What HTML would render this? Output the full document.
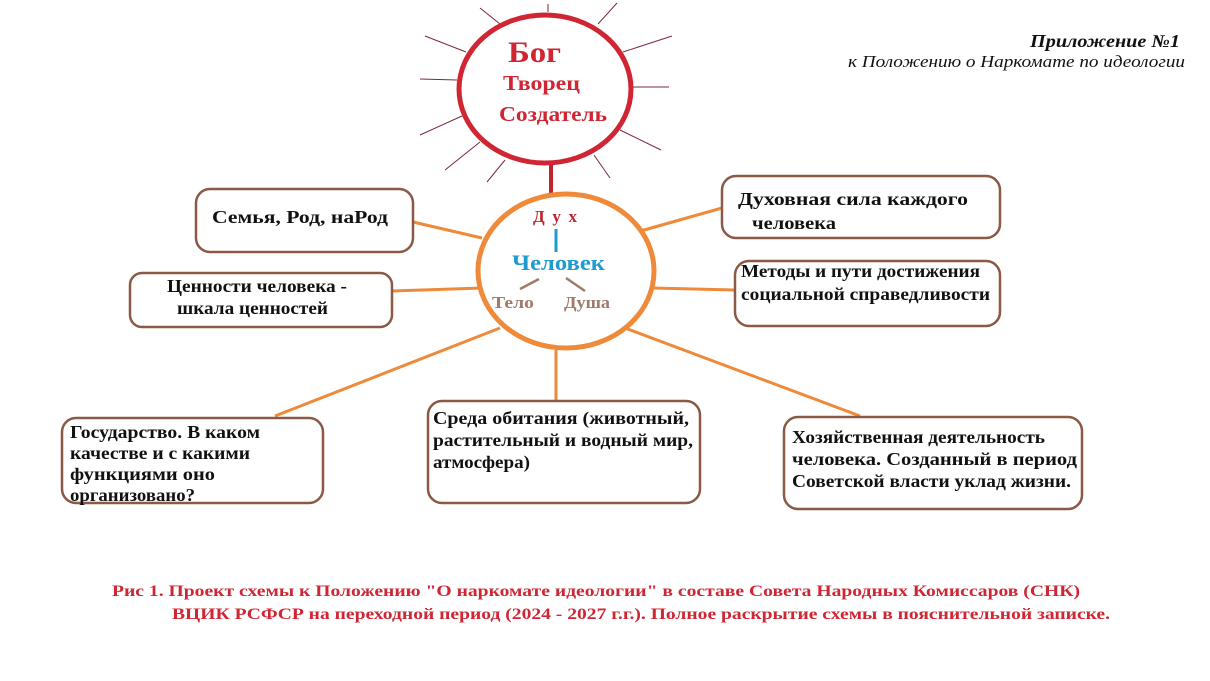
<!DOCTYPE html>
<html><head><meta charset="utf-8"><style>html,body{margin:0;padding:0;background:#fff}svg{display:block}</style></head>
<body>
<svg width="1210" height="681" viewBox="0 0 1210 681" xmlns="http://www.w3.org/2000/svg" font-family="'Liberation Serif',serif">
<rect width="1210" height="681" fill="#fff"/>
<g stroke="#7a2a3a" stroke-width="1">
<line x1="480" y1="8" x2="500" y2="24"/>
<line x1="548" y1="4" x2="548" y2="12"/>
<line x1="617" y1="3" x2="598" y2="24"/>
<line x1="672" y1="36" x2="623" y2="52"/>
<line x1="669" y1="87" x2="633" y2="87"/>
<line x1="661" y1="150" x2="620" y2="130"/>
<line x1="610" y1="178" x2="594" y2="155"/>
<line x1="487" y1="182" x2="505" y2="160"/>
<line x1="445" y1="170" x2="480" y2="142"/>
<line x1="420" y1="135" x2="462" y2="116"/>
<line x1="420" y1="79" x2="457" y2="80"/>
<line x1="425" y1="36" x2="466" y2="52"/>
</g>
<line x1="551" y1="163" x2="551" y2="193" stroke="#c0242f" stroke-width="4"/>
<ellipse cx="545" cy="89" rx="86" ry="74" fill="#fff" stroke="#d02634" stroke-width="5"/>
<g font-weight="bold" fill="#d02634" lengthAdjust="spacingAndGlyphs">
<text x="508" y="62" font-size="30" textLength="53" lengthAdjust="spacingAndGlyphs">Бог</text>
<text x="503" y="90" font-size="21" textLength="77" lengthAdjust="spacingAndGlyphs">Творец</text>
<text x="499" y="121" font-size="21" textLength="108" lengthAdjust="spacingAndGlyphs">Создатель</text>
</g>
<g stroke="#ee8a3a" stroke-width="3">
<line x1="413" y1="222" x2="482" y2="238"/>
<line x1="392" y1="291" x2="482" y2="288"/>
<line x1="275" y1="416" x2="500" y2="328"/>
<line x1="556" y1="350" x2="556" y2="400"/>
<line x1="860" y1="416" x2="625" y2="328"/>
<line x1="735" y1="290" x2="652" y2="288"/>
<line x1="722" y1="208" x2="637" y2="232"/>
</g>
<ellipse cx="566" cy="271" rx="88" ry="77" fill="#fff" stroke="#ee8a3a" stroke-width="5"/>
<text x="533" y="222" font-size="17" font-weight="bold" fill="#c0242f" textLength="44" lengthAdjust="spacing">Дух</text>
<line x1="556" y1="229" x2="556" y2="252" stroke="#1e9bcf" stroke-width="3"/>
<text x="512" y="270" font-size="22" font-weight="bold" fill="#1e9bcf" textLength="93" lengthAdjust="spacingAndGlyphs">Человек</text>
<line x1="520" y1="289" x2="539" y2="279" stroke="#a07a6a" stroke-width="2.5"/>
<line x1="566" y1="278" x2="585" y2="291" stroke="#a07a6a" stroke-width="2.5"/>
<text x="492" y="308" font-size="17" font-weight="bold" fill="#a07a6a" textLength="42" lengthAdjust="spacingAndGlyphs">Тело</text>
<text x="564" y="308" font-size="17" font-weight="bold" fill="#a07a6a" textLength="46" lengthAdjust="spacingAndGlyphs">Душа</text>
<g fill="#fff" stroke="#8a5a46" stroke-width="2.5">
<rect x="196" y="189" width="217" height="63" rx="14"/>
<rect x="130" y="273" width="262" height="54" rx="12"/>
<rect x="722" y="176" width="278" height="62" rx="14"/>
<rect x="735" y="261" width="265" height="65" rx="14"/>
<rect x="62" y="418" width="261" height="85" rx="14"/>
<rect x="428" y="401" width="272" height="102" rx="14"/>
<rect x="784" y="417" width="298" height="92" rx="14"/>
</g>
<g font-size="18" font-weight="bold" fill="#111">
<text x="212" y="223" textLength="176" lengthAdjust="spacingAndGlyphs">Семья, Род, наРод</text>
<text x="167" y="292" textLength="180" lengthAdjust="spacingAndGlyphs">Ценности человека -</text>
<text x="177" y="314" textLength="151" lengthAdjust="spacingAndGlyphs">шкала ценностей</text>
<text x="738" y="205" textLength="230" lengthAdjust="spacingAndGlyphs">Духовная сила каждого</text>
<text x="752" y="229" textLength="84" lengthAdjust="spacingAndGlyphs">человека</text>
<text x="741" y="277" textLength="239" lengthAdjust="spacingAndGlyphs">Методы и пути достижения</text>
<text x="741" y="300" textLength="249" lengthAdjust="spacingAndGlyphs">социальной справедливости</text>
<text x="70" y="438" textLength="190" lengthAdjust="spacingAndGlyphs">Государство. В каком</text>
<text x="70" y="459" textLength="180" lengthAdjust="spacingAndGlyphs">качестве и с какими</text>
<text x="70" y="480" textLength="145" lengthAdjust="spacingAndGlyphs">функциями оно</text>
<text x="70" y="501" textLength="125" lengthAdjust="spacingAndGlyphs">организовано?</text>
<text x="433" y="424" textLength="256" lengthAdjust="spacingAndGlyphs">Среда обитания (животный,</text>
<text x="433" y="446" textLength="260" lengthAdjust="spacingAndGlyphs">растительный и водный мир,</text>
<text x="433" y="468" textLength="97" lengthAdjust="spacingAndGlyphs">атмосфера)</text>
<text x="792" y="443" textLength="253" lengthAdjust="spacingAndGlyphs">Хозяйственная деятельность</text>
<text x="792" y="465" textLength="285" lengthAdjust="spacingAndGlyphs">человека. Созданный в период</text>
<text x="792" y="487" textLength="279" lengthAdjust="spacingAndGlyphs">Советской власти уклад жизни.</text>
</g>
<text x="1030" y="47" font-size="18" font-weight="bold" font-style="italic" fill="#111" textLength="150" lengthAdjust="spacingAndGlyphs">Приложение №1</text>
<text x="848" y="67" font-size="17" font-style="italic" fill="#111" textLength="337" lengthAdjust="spacingAndGlyphs">к Положению о Наркомате по идеологии</text>
<text x="112" y="596" font-size="16" font-weight="bold" fill="#d02634" textLength="968" lengthAdjust="spacingAndGlyphs">Рис 1. Проект схемы к Положению "О наркомате идеологии" в составе Совета Народных Комиссаров (СНК)</text>
<text x="172" y="619" font-size="16" font-weight="bold" fill="#d02634" textLength="938" lengthAdjust="spacingAndGlyphs">ВЦИК РСФСР на переходной период (2024 - 2027 г.г.). Полное раскрытие схемы в пояснительной записке.</text>
</svg>
</body></html>
